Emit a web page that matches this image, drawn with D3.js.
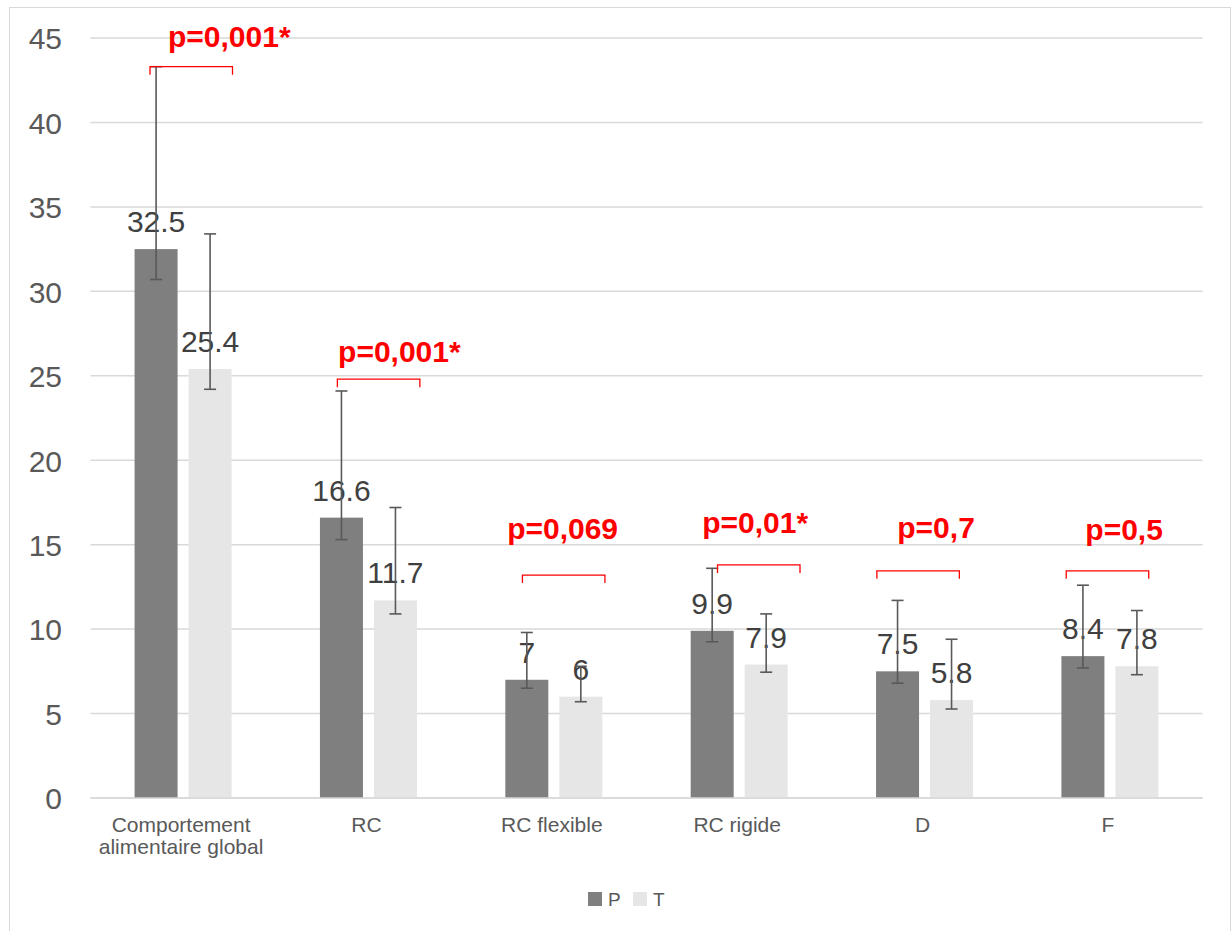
<!DOCTYPE html>
<html>
<head>
<meta charset="utf-8">
<script src="https://cdn.jsdelivr.net/npm/d3@7"></script>
<style>
  html, body { margin: 0; padding: 0; background: #fff; }
  svg { display: block; font-family: "Liberation Sans", Arial, sans-serif; }
</style>
</head>
<body>
<svg id="chart" width="1232" height="931"></svg>
<script>
// Category names (split into display lines)
const categories = ["Comportement alimentaire global", "RC", "RC flexible", "RC rigide", "D", "F"];
const categoryLines = [["Comportement", "alimentaire global"], ["RC"], ["RC flexible"], ["RC rigide"], ["D"], ["F"]];

// Series names
const seriesNames = ["P", "T"];

// Mean scores
const valuesP = [32.5, 16.6, 7, 9.9, 7.5, 8.4];
const valuesT = [25.4, 11.7, 6, 7.9, 5.8, 7.8];

// Error bar bounds (low / high)
const errLowP  = [30.7, 15.3, 6.5, 9.25, 6.8, 7.7];
const errHighP = [43.3, 24.1, 9.8, 13.6, 11.7, 12.6];
const errLowT  = [24.2, 10.9, 5.7, 7.45, 5.27, 7.3];
const errHighT = [33.4, 17.2, 7.8, 10.9, 9.4, 11.1];

// Significance annotations
const pLabels = ["p=0,001*", "p=0,001*", "p=0,069", "p=0,01*", "p=0,7", "p=0,5"];
const bracketLevels = [43.3, 24.8, 13.2, 13.8, 13.45, 13.45];

// Y axis ticks
const yTicks = [0, 5, 10, 15, 20, 25, 30, 35, 40, 45];

// Placement of each annotation inside its category band (pixels)
const annotationLayout = [
  { bracketX: 59.6, textX: 77.6, textRise: 20 },
  { bracketX: 61.6, textX: 62.3, textRise: 17 },
  { bracketX: 61.3, textX: 46.0, textRise: 36 },
  { bracketX: 71.0, textX: 55.7, textRise: 32 },
  { bracketX: 45.0, textX: 65.4, textRise: 33 },
  { bracketX: 49.0, textX: 68.1, textRise: 31 }
];

const colors = { P: "#7f7f7f", T: "#e6e6e6" };
const svg = d3.select("#chart");

// Outer frame
svg.append("rect")
  .attr("x", 9.5).attr("y", 7.5).attr("width", 1221).attr("height", 930)
  .attr("fill", "#fff").attr("stroke", "#d9d9d9").attr("stroke-width", 1);

const plot = { left: 90.4, right: 1202.6, top: 38, bottom: 798 };

const x0 = d3.scaleBand().domain(categories).range([plot.left, plot.right]).paddingInner(0).paddingOuter(0);
const groupWidth = 97;
const x1 = d3.scaleBand().domain(seriesNames).range([0, groupWidth]).paddingInner(11 / 54).paddingOuter(0);
const groupOffset = (x0.bandwidth() - groupWidth) / 2;
const y = d3.scaleLinear().domain([0, 45]).range([plot.bottom, plot.top]);

// Gridlines
svg.append("g").selectAll("line").data(yTicks).join("line")
  .attr("x1", plot.left).attr("x2", plot.right)
  .attr("y1", d => y(d)).attr("y2", d => y(d))
  .attr("stroke", "#d9d9d9").attr("stroke-width", 1.5);

// Y axis labels
const yAxis = d3.axisLeft(y).tickValues(yTicks).tickSize(0).tickPadding(0);
const yg = svg.append("g").attr("transform", `translate(${62},0)`).call(yAxis);
yg.select(".domain").remove();
yg.selectAll("text")
  .attr("fill", "#595959").style("font-size", "30px")
  .attr("font-family", "Liberation Sans, Arial, sans-serif")
  .attr("dy", "0.36em");

// Flattened bar records
const bars = [];
categories.forEach((c, i) => {
  bars.push({ cat: c, s: "P", v: valuesP[i], lo: errLowP[i], hi: errHighP[i] });
  bars.push({ cat: c, s: "T", v: valuesT[i], lo: errLowT[i], hi: errHighT[i] });
});
const barX = d => x0(d.cat) + groupOffset + x1(d.s);
const barMid = d => barX(d) + x1.bandwidth() / 2;

// Bars
svg.append("g").selectAll("rect").data(bars).join("rect")
  .attr("x", barX).attr("width", x1.bandwidth())
  .attr("y", d => y(d.v)).attr("height", d => y(0) - y(d.v))
  .attr("fill", d => colors[d.s]);

// Value labels
svg.append("g").selectAll("text").data(bars).join("text")
  .attr("x", barMid).attr("y", d => y(d.v) - 17)
  .attr("text-anchor", "middle")
  .attr("fill", "#404040").style("font-size", "30px")
  .text(d => d.v);

// Error bars
const eb = svg.append("g").attr("stroke", "#595959").attr("stroke-width", 1.6);
eb.selectAll("line.v").data(bars).join("line").attr("class", "v")
  .attr("x1", barMid).attr("x2", barMid)
  .attr("y1", d => y(d.hi)).attr("y2", d => y(d.lo));
eb.selectAll("line.hi").data(bars).join("line").attr("class", "hi")
  .attr("x1", d => barMid(d) - 6).attr("x2", d => barMid(d) + 6)
  .attr("y1", d => y(d.hi)).attr("y2", d => y(d.hi));
eb.selectAll("line.lo").data(bars).join("line").attr("class", "lo")
  .attr("x1", d => barMid(d) - 6).attr("x2", d => barMid(d) + 6)
  .attr("y1", d => y(d.lo)).attr("y2", d => y(d.lo));

// X axis line
svg.append("line")
  .attr("x1", plot.left).attr("x2", plot.right)
  .attr("y1", y(0)).attr("y2", y(0))
  .attr("stroke", "#d9d9d9").attr("stroke-width", 1.5);

// Category labels
const catG = svg.append("g").selectAll("text").data(categories).join("text")
  .attr("text-anchor", "middle")
  .attr("fill", "#595959").style("font-size", "21px")
  .attr("x", d => x0(d) + x0.bandwidth() / 2 - 2)
  .attr("y", 832);
catG.each(function(d, i) {
  d3.select(this).selectAll("tspan").data(categoryLines[i]).join("tspan")
    .attr("x", x0(d) + x0.bandwidth() / 2 - 2)
    .attr("dy", (t, j) => j === 0 ? 0 : 21.5)
    .text(t => t);
});

// Significance brackets and labels
const ann = svg.append("g");
categories.forEach((c, i) => {
  const lay = annotationLayout[i];
  const bx = x0(c) + lay.bracketX;
  const by = y(bracketLevels[i]);
  ann.append("path")
    .attr("d", `M${bx},${by + 8}V${by}H${bx + 82.5}V${by + 8}`)
    .attr("fill", "none").attr("stroke", "#ff0000").attr("stroke-width", 1.3);
  ann.append("text")
    .attr("x", x0(c) + lay.textX).attr("y", by - lay.textRise)
    .attr("fill", "#ff0000").style("font-size", "30px").style("font-weight", "bold")
    .text(pLabels[i]);
});

// Legend
const legend = svg.append("g");
const legendItems = [{ s: "P", x: 588 }, { s: "T", x: 633 }];
legend.selectAll("rect").data(legendItems).join("rect")
  .attr("x", d => d.x).attr("y", 892).attr("width", 14).attr("height", 14)
  .attr("fill", d => colors[d.s]);
legend.selectAll("text").data(legendItems).join("text")
  .attr("x", d => d.x + 20).attr("y", 906)
  .attr("fill", "#595959").style("font-size", "19px")
  .text(d => d.s);
</script>
</body>
</html>
